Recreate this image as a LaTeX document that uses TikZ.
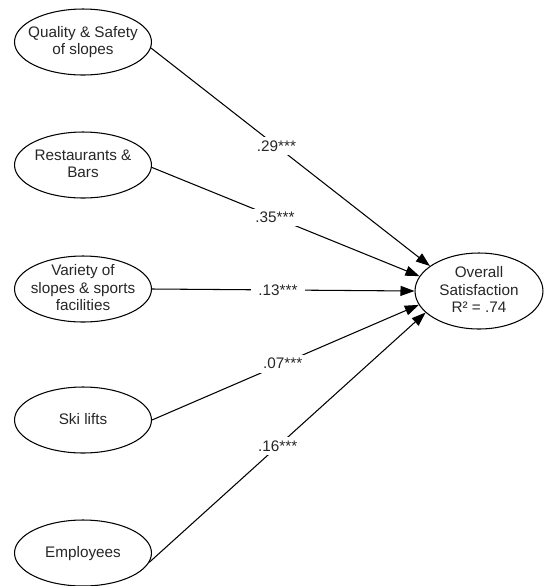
\documentclass[tikz,border=0pt]{standalone}
\usepackage{fontspec}
\setmainfont{Liberation Sans}
\usetikzlibrary{shapes.geometric,arrows.meta}
\newcommand{\ovaltext}[1]{\makebox[0pt]{\raisebox{-0.3em}[0pt][0pt]{\begin{tabular}{@{}c@{}}#1\end{tabular}}}}

\begin{document}
\begin{tikzpicture}[x=0.02cm,y=-0.02cm,
    factor/.style={ellipse,draw,line width=0.6pt,minimum width=2.74cm,minimum height=1.32cm,inner sep=0pt,font=\fontsize{8.7}{10}\selectfont,text=black!85},
    outcome/.style={factor,minimum width=2.56cm,minimum height=1.52cm},
    path/.style={line width=0.6pt,-{Triangle[length=2.8mm,width=2mm]}},
    coef/.style={fill=white,inner xsep=4pt,inner ysep=2pt,font=\fontsize{8.7}{10}\selectfont,text=black!85}]
    \useasboundingbox (0,0) rectangle (544,586);
    \node [factor] (quality) at (83,42) {\ovaltext{Quality \& Safety\\of slopes}};
    \node [factor] (bars) at (83,165) {\ovaltext{Restaurants \&\\Bars}};
    \node [factor] (variety) at (83,289) {\ovaltext{Variety of\\slopes \& sports\\facilities}};
    \node [factor] (lifts) at (83,420) {\ovaltext{Ski lifts}};
    \node [factor] (staff) at (83,553) {\ovaltext{Employees}};
    \node [outcome] (overall) at (479,291) {\ovaltext{Overall\\Satisfaction\\R² = .74}};
    \draw [path] (quality.-5) -- node [coef,pos=0.45]{.29***} (overall.153);
    \draw [path] (bars.-2) -- node [coef,pos=0.46]{.35***} (overall.166);
    \draw [path] (variety.east) -- node [coef,pos=0.48]{.13***} (overall.180);
    \draw [path] (lifts.east) -- node [coef,pos=0.49]{.07***} (overall.193);
    \draw [path] (staff.-8) -- node [coef,pos=0.465]{.16***} (overall.202);
  \end{tikzpicture}
\end{document}
